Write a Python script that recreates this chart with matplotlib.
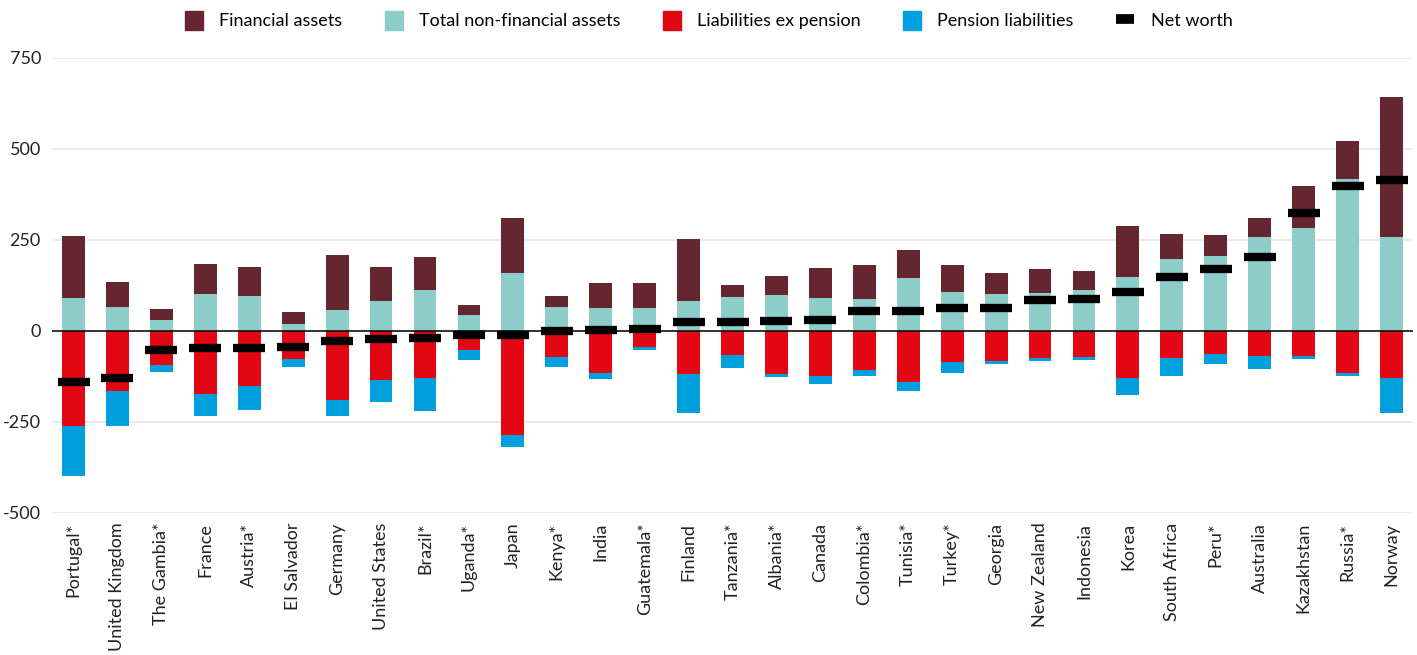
import numpy as np
import matplotlib.pyplot as plt
from matplotlib.lines import Line2D
from matplotlib.patches import Patch

# %% Data (percent of GDP)
countries = ['Portugal*', 'United Kingdom', 'The Gambia*', 'France', 'Austria*',
             'El Salvador', 'Germany', 'United States', 'Brazil*', 'Uganda*',
             'Japan', 'Kenya*', 'India', 'Guatemala*', 'Finland', 'Tanzania*',
             'Albania*', 'Canada', 'Colombia*', 'Tunisia*', 'Turkey*', 'Georgia',
             'New Zealand', 'Indonesia', 'Korea', 'South Africa', 'Peru*',
             'Australia', 'Kazakhstan', 'Russia*', 'Norway']
non_fin_assets = [91, 66, 30, 102, 96, 19, 58, 82, 113, 44,
                  159, 66, 63, 63, 82, 93, 99, 91, 88, 146,
                  107, 102, 104, 113, 148, 198, 206, 258, 283, 418, 258]
fin_assets = [170, 69, 30, 82, 80, 33, 151, 94, 90, 27,
              151, 30, 69, 69, 171, 33, 52, 82, 93, 77,
              74, 57, 66, 52, 140, 68, 58, 52, 115, 104, 385]
liab_ex_pension = [261, 165, 93, 172, 151, 77, 190, 135, 129, 52,
                   286, 71, 115, 44, 117, 66, 118, 123, 107, 140,
                   85, 82, 74, 71, 129, 74, 63, 69, 69, 115, 129]
pension_liab = [136, 96, 19, 61, 65, 21, 43, 59, 90, 28,
                32, 28, 17, 8, 107, 35, 8, 22, 17, 25,
                30, 9, 8, 9, 47, 50, 28, 35, 8, 9, 96]
net_worth = [-139, -128, -51, -46, -46, -43, -27, -21, -18, -10,
             -10, 1, 4, 6, 26, 26, 28, 31, 56, 56,
             64, 64, 86, 89, 108, 147, 171, 204, 325, 397, 416]

c_fin = '#652630'
c_nfa = '#8ccdc9'
c_liab = '#e30613'
c_pen = '#00a0df'

plt.rcParams['font.family'] = ['Lato', 'DejaVu Sans']

# %% Plot
fig = plt.figure(figsize=(14.17, 6.55), dpi=100)
ax = fig.add_axes([0.0367, 0.2168, 0.9605, 0.6947])

x = np.arange(len(countries))
nfa = np.array(non_fin_assets)
liab = np.array(liab_ex_pension)
w = 0.52
ax.bar(x, nfa, w, color=c_nfa, zorder=2)
ax.bar(x, fin_assets, w, bottom=nfa, color=c_fin, zorder=2)
ax.bar(x, -liab, w, color=c_liab, zorder=2)
ax.bar(x, -np.array(pension_liab), w, bottom=-liab, color=c_pen, zorder=2)
ax.plot(x, net_worth, linestyle='none', marker='_', markersize=22.5,
        markeredgewidth=6, color='black', zorder=4)
ax.axhline(0, color='black', lw=1.1, zorder=3)

ax.set_xlim(-0.49, len(countries) - 0.51)
ax.set_ylim(-500, 750)
ax.set_yticks([-500, -250, 0, 250, 500, 750])
ax.set_yticklabels(['-500', '-250', '0', '250', '500', '750'])
ax.grid(axis='y', color='#ebebeb', lw=1.5, zorder=0)
ax.set_xticks(x)
ax.set_xticklabels(countries, rotation=90, va='top', ha='center')
ax.tick_params(axis='both', length=0, labelsize=13, colors='#222222')
ax.tick_params(axis='y', pad=8)
ax.tick_params(axis='x', pad=7)
for s in ax.spines.values():
    s.set_visible(False)

handles = [Patch(color=c_fin), Patch(color=c_nfa), Patch(color=c_liab),
           Patch(color=c_pen),
           Line2D([], [], color='black', lw=7, solid_capstyle='butt')]
labels = ['Financial assets', 'Total non-financial assets',
          'Liabilities ex pension', 'Pension liabilities', 'Net worth']
fig.legend(handles, labels, loc='upper center', bbox_to_anchor=(0.5, 1.008),
           ncol=5, frameon=False, fontsize=13, handlelength=1.0,
           handleheight=1.2, columnspacing=2.35, handletextpad=0.9)

fig.savefig('out.png', dpi=100)
